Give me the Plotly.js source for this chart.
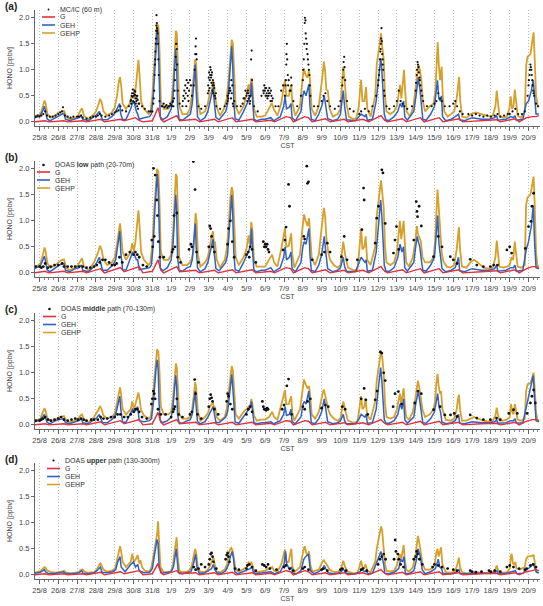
<!DOCTYPE html>
<html>
<head>
<meta charset="utf-8">
<script src="https://cdn.plot.ly/plotly-3.0.1.min.js"></script>
<style>
  html, body { margin: 0; padding: 0; background: #fff; }
  #chart { width: 543px; height: 606px; }
</style>
</head>
<body>
<div id="chart"></div>
<script>
// x is time in days since 25/8 00:00 CST; each tick is one midnight
const dayLabels = ['25/8','26/8','27/8','28/8','29/8','30/8','31/8','1/9','2/9','3/9','4/9','5/9','6/9',
  '7/9','8/9','9/9','10/9','11/9','12/9','13/9','14/9','15/9','16/9','17/9','18/9','19/9','20/9'];
const dayTicks = dayLabels.map((_, i) => i);
const yTickVals = [0, 0.5, 1.0, 1.5, 2.0];
const yTickText = ['0.0', '0.5', '1.0', '1.5', '2.0'];

const panelTags = ['(a)', '(b)', '(c)', '(d)'];
const obsNames = ['MC/IC (60 m)', 'DOAS <b>low</b> path (20-70m)', 'DOAS <b>middle</b> path (70-130m)', 'DOAS <b>upper</b> path (130-300m)'];
const modelNames = ['G', 'GEH', 'GEHP'];

// ---------- (a) MC/IC at 60 m ----------
const obsA = [[-0.2,0.1],[-0.1,0.12],[0.0,0.1],[0.1,0.12],[0.2,0.15],[0.3,0.2],[0.4,0.12],[0.55,0.1],[0.7,0.1],[0.85,0.12],
 [1.0,0.15],[1.1,0.18],[1.2,0.2],[1.25,0.28],[1.35,0.12],[1.5,0.1],[1.65,0.08],[1.8,0.1],
 [2.0,0.1],[2.1,0.1],[2.2,0.12],[2.3,0.08],[2.5,0.06],[2.7,0.08],[2.85,0.1],
 [3.0,0.1],[3.1,0.12],[3.2,0.15],[3.3,0.12],[3.5,0.1],[3.7,0.12],[3.85,0.15],
 [4.0,0.18],[4.1,0.2],[4.2,0.22],[4.3,0.3],[4.4,0.22],[4.6,0.2],[4.75,0.3],[4.85,0.4],[4.9,0.5],
 [4.86,0.42],[4.88,0.35],[4.92,0.55],[4.94,0.48],[4.96,0.62],[4.98,0.4],[5.02,0.5],[5.04,0.38],[5.07,0.52],[5.09,0.58],
 [5.12,0.35],[5.14,0.5],[5.17,0.45],[5.19,0.3],[5.22,0.42],[5.24,0.25],[5.27,0.35],
 [5.0,0.55],[5.05,0.6],[5.1,0.45],[5.15,0.4],[5.2,0.5],[5.3,0.35],[5.45,0.3],[5.6,0.25],[5.8,0.2],[5.9,0.2],
 [6.0,0.2],[6.05,0.35],[6.1,0.6],[6.15,1.2],[6.18,1.5],[6.2,1.75],[6.22,2.05],[6.25,1.8],[6.28,1.7],[6.32,1.2],[6.38,0.4],[6.5,0.3],[6.7,0.3],[6.85,0.3],
 [6.07,0.45],[6.12,0.9],[6.14,1.1],[6.16,1.35],[6.19,1.6],[6.21,1.85],[6.24,1.9],[6.26,1.75],[6.3,1.5],[6.34,0.9],
 [6.55,0.3],[6.6,0.35],[6.65,0.28],[6.75,0.32],[6.8,0.27],[6.9,0.3],[6.95,0.35],[7.05,0.3],[7.08,0.38],[7.12,0.3],[7.15,0.45],
 [7.0,0.32],[7.1,0.4],[7.18,0.6],[7.22,1.0],[7.26,1.5],[7.3,1.4],[7.35,0.6],[7.45,0.35],[7.6,0.3],[7.8,0.3],
 [7.2,0.8],[7.24,1.25],[7.28,1.5],[7.32,1.1],
 [7.62,0.4],[7.65,0.5],[7.7,0.6],[7.72,0.45],[7.75,0.7],[7.78,0.55],[7.82,0.8],[7.85,0.65],[7.88,0.5],[7.9,0.75],[7.92,0.4],
 [7.95,0.6],[8.0,0.8],[8.05,0.7],[8.1,0.5],[8.2,0.7],[8.28,1.3],[8.32,1.6],[8.36,1.2],[8.45,0.3],[8.6,0.25],[8.8,0.3],
 [8.25,1.0],[8.3,1.45],[8.34,1.3],
 [8.95,0.55],[8.97,0.7],[9.0,0.85],[9.02,0.95],[9.04,0.65],[9.07,0.9],[9.08,1.05],[9.12,0.85],[9.14,0.75],[9.17,0.95],
 [9.19,0.6],[9.22,0.8],[9.24,0.55],[9.27,0.7],[9.29,0.65],[9.32,0.5],[9.35,0.45],[9.38,0.55],
 [9.0,0.6],[9.05,0.8],[9.1,1.0],[9.15,0.9],[9.2,0.7],[9.25,0.75],[9.3,0.5],[9.4,0.3],[9.6,0.25],[9.85,0.3],
 [9.95,0.35],[10.0,0.5],[10.03,0.45],[10.07,0.55],[10.12,0.65],[10.15,0.6],[10.18,0.45],[10.22,0.55],[10.28,0.35],[10.3,0.3],
 [10.0,0.4],[10.1,0.6],[10.2,0.8],[10.25,0.7],[10.35,0.4],[10.5,0.3],[10.7,0.3],[10.85,0.45],
 [10.8,0.35],[10.9,0.45],[10.95,0.6],[11.02,0.55],[11.05,0.4],[11.08,0.6],[11.12,0.45],[11.15,0.5],[11.18,0.35],[11.22,0.5],
 [11.0,0.5],[11.1,0.55],[11.2,0.4],[11.25,1.2],[11.28,1.37],[11.3,0.8],[11.4,0.3],[11.6,0.2],[11.8,0.5],[11.9,0.6],
 [11.92,0.55],[11.95,0.7],[11.98,0.6],[12.02,0.5],[12.05,0.65],[12.08,0.55],[12.12,0.45],[12.15,0.6],[12.18,0.5],[12.22,0.65],
 [12.25,0.55],[12.28,0.4],[12.33,0.5],[12.36,0.4],
 [12.0,0.65],[12.1,0.5],[12.2,0.55],[12.3,0.6],[12.4,0.45],[12.55,0.3],[12.7,0.3],[12.85,0.6],[12.95,0.7],
 [13.05,0.5],[13.1,0.8],[13.12,1.1],[13.15,1.5],[13.2,0.9],[13.3,0.6],[13.4,0.7],[13.5,0.4],[13.7,0.3],[13.9,0.5],
 [13.08,0.7],[13.13,1.3],[13.17,1.2],[13.22,0.7],[13.25,0.8],[13.35,0.6],[13.38,0.85],
 [14.0,0.8],[14.05,1.2],[14.1,1.9],[14.12,2.2],[14.15,1.7],[14.2,1.4],[14.25,1.3],[14.3,1.1],[14.35,0.9],[14.4,0.5],[14.6,0.3],[14.8,0.3],
 [14.02,1.0],[14.08,1.5],[14.11,2.0],[14.14,1.95],[14.17,1.6],[14.22,1.5],[14.27,1.2],[14.32,1.0],[14.37,0.7],
 [15.0,0.4],[15.1,0.5],[15.2,0.55],[15.3,0.4],[15.45,0.3],[15.7,0.25],[15.9,0.3],
 [16.0,0.4],[16.1,0.7],[16.15,1.0],[16.2,1.25],[16.25,0.8],[16.35,0.4],[16.5,0.25],[16.7,0.2],
 [16.12,0.85],[16.17,1.15],[16.22,1.05],
 [17.0,0.15],[17.1,0.2],[17.3,0.25],[17.5,0.2],[17.7,0.3],[17.9,0.5],
 [18.0,0.7],[18.05,0.9],[18.1,1.2],[18.15,1.5],[18.18,1.8],[18.22,1.3],[18.27,1.0],[18.32,0.6],[18.45,0.3],[18.6,0.25],[18.85,0.3],
 [18.02,0.8],[18.07,1.0],[18.12,1.35],[18.14,1.4],[18.16,1.6],[18.2,1.55],[18.24,1.2],[18.25,1.1],[18.29,0.8],[18.35,0.5],
 [19.0,0.4],[19.1,0.6],[19.2,0.4],[19.3,0.35],[19.4,0.3],[19.55,0.25],[19.8,0.3],
 [20.0,0.6],[20.05,0.9],[20.1,1.15],[20.15,1.05],[20.2,0.85],[20.3,0.6],[20.4,0.4],[20.6,0.3],[20.85,0.3],
 [20.02,0.75],[20.07,1.0],[20.12,1.1],[20.17,0.95],[20.22,0.8],[20.25,0.7],[20.35,0.5],
 [21.0,0.35],[21.1,0.4],[21.2,0.55],[21.3,0.45],[21.4,0.4],[21.55,0.3],[21.8,0.3],
 [22.0,0.35],[22.1,0.4],[22.2,0.3],[22.35,0.2],[22.5,0.15],[22.8,0.15],
 [23.0,0.12],[23.2,0.15],[23.4,0.12],[23.6,0.1],[23.8,0.12],
 [24.0,0.1],[24.2,0.12],[24.35,0.15],[24.5,0.1],[24.7,0.12],[24.9,0.15],
 [25.0,0.15],[25.15,0.2],[25.3,0.25],[25.45,0.15],[25.65,0.15],[25.8,0.2],
 [25.95,0.5],[26.0,0.7],[26.05,0.9],[26.1,1.1],[26.15,1.0],[26.2,0.8],[26.25,0.6],[26.3,0.5],[26.4,0.35],[26.5,0.3],
 [26.02,0.8],[26.07,1.0],[26.12,1.05],[26.17,0.9],[26.22,0.7],[26.27,0.55]];

const gA = [[-0.25,0.0],[0.3,0.02],[0.5,0.0],[1.3,0.02],[1.5,0.0],[2.3,0.02],[2.5,0.0],[3.25,0.05],[3.45,0.0],[4.3,0.05],[4.5,0.02],
 [5.1,0.08],[5.3,0.03],[5.5,0.0],[6.0,0.02],[6.3,0.27],[6.45,0.05],[6.6,0.0],[7.3,0.12],[7.45,0.02],[8.3,0.05],[8.5,0.0],[9.3,0.05],[9.5,0.0],
 [10.25,0.08],[10.45,0.0],[11.3,0.05],[11.5,0.0],[12.3,0.03],[12.5,0.0],[13.1,0.1],[13.35,0.08],[13.5,0.0],[14.1,0.1],[14.3,0.08],[14.5,0.0],
 [15.2,0.06],[15.45,0.0],[16.2,0.05],[16.4,0.0],[17.2,0.05],[17.5,0.0],[18.15,0.12],[18.35,0.03],[18.5,0.0],[19.3,0.06],[19.5,0.0],
 [20.25,0.08],[20.45,0.0],[21.25,0.08],[21.45,0.0],[22.3,0.06],[22.5,0.0],[23.5,0.02],[24.3,0.04],[24.5,0.0],[25.3,0.06],[25.5,0.0],
 [25.9,0.08],[26.2,0.1],[26.4,0.1],[26.55,0.12]];

const gehA = [[-0.25,0.08],[0.05,0.12],[0.18,0.22],[0.26,0.3],[0.32,0.2],[0.4,0.06],[0.55,0.02],[0.85,0.08],
 [1.05,0.13],[1.2,0.15],[1.3,0.16],[1.38,0.05],[1.6,0.02],[1.9,0.06],
 [2.1,0.08],[2.22,0.12],[2.3,0.05],[2.6,0.02],[2.9,0.1],
 [3.05,0.14],[3.18,0.2],[3.26,0.12],[3.35,0.04],[3.6,0.04],[3.9,0.12],
 [4.05,0.2],[4.18,0.3],[4.26,0.35],[4.32,0.15],[4.42,0.04],[4.6,0.05],[4.85,0.25],
 [4.95,0.38],[5.05,0.35],[5.15,0.2],[5.22,0.15],[5.3,0.05],[5.55,0.08],[5.85,0.1],
 [5.95,0.15],[6.05,0.5],[6.13,1.1],[6.2,1.6],[6.26,1.82],[6.31,1.55],[6.36,0.6],[6.42,0.1],[6.55,0.04],[6.8,0.1],
 [7.0,0.25],[7.1,0.5],[7.18,1.0],[7.24,1.4],[7.29,1.1],[7.34,0.3],[7.42,0.05],[7.6,0.03],[7.85,0.1],
 [8.02,0.15],[8.12,0.35],[8.22,0.8],[8.28,1.1],[8.33,0.6],[8.4,0.1],[8.55,0.02],[8.8,0.08],
 [8.95,0.2],[9.08,0.4],[9.17,0.5],[9.23,0.65],[9.3,0.35],[9.38,0.08],[9.55,0.04],[9.9,0.2],
 [10.0,0.35],[10.08,0.7],[10.16,1.2],[10.22,1.45],[10.27,1.1],[10.33,0.4],[10.4,0.06],[10.6,0.03],[10.85,0.2],
 [11.02,0.35],[11.15,0.45],[11.22,0.5],[11.27,0.75],[11.33,0.35],[11.4,0.05],[11.55,0.02],[11.8,0.05],
 [12.0,0.05],[12.3,0.08],[12.45,0.02],[12.8,0.1],
 [12.98,0.3],[13.06,0.49],[13.13,0.25],[13.28,0.28],[13.37,0.35],[13.43,0.08],[13.6,0.02],[13.9,0.2],
 [14.0,0.5],[14.07,0.6],[14.17,0.5],[14.27,0.62],[14.32,0.72],[14.38,0.3],[14.45,0.05],[14.65,0.02],[14.85,0.15],
 [15.0,0.3],[15.1,0.45],[15.14,0.5],[15.22,0.3],[15.32,0.06],[15.6,0.02],[15.85,0.05],
 [16.0,0.15],[16.1,0.45],[16.15,0.6],[16.22,0.3],[16.32,0.04],[16.8,0.02],
 [17.0,0.1],[17.1,0.15],[17.3,0.1],[17.37,0.15],[17.43,0.03],[17.7,0.05],[17.9,0.4],
 [18.0,0.8],[18.08,1.0],[18.14,1.22],[18.2,1.0],[18.27,0.6],[18.33,0.15],[18.42,0.03],[18.6,0.03],[18.85,0.1],
 [19.05,0.2],[19.17,0.35],[19.27,0.28],[19.36,0.4],[19.42,0.1],[19.55,0.03],[19.9,0.2],
 [20.0,0.45],[20.08,0.7],[20.14,0.85],[20.22,0.65],[20.3,0.3],[20.38,0.05],[20.55,0.03],[20.8,0.15],
 [21.0,0.3],[21.1,0.6],[21.16,0.8],[21.23,0.45],[21.32,0.4],[21.37,0.5],[21.43,0.1],[21.6,0.02],[21.9,0.05],
 [22.1,0.1],[22.28,0.15],[22.34,0.04],[22.6,0.02],
 [23.0,0.08],[23.5,0.05],[23.9,0.05],
 [24.2,0.08],[24.3,0.12],[24.37,0.03],[24.8,0.05],
 [25.05,0.1],[25.2,0.08],[25.28,0.12],[25.35,0.03],[25.7,0.05],
 [25.88,0.35],[26.0,0.4],[26.15,0.6],[26.25,0.8],[26.32,0.5],[26.4,0.15],[26.55,0.15]];

const gehpA = [[-0.25,0.1],[0.05,0.15],[0.18,0.3],[0.27,0.41],[0.33,0.35],[0.42,0.15],[0.6,0.08],[0.85,0.12],
 [1.0,0.18],[1.15,0.2],[1.3,0.21],[1.42,0.1],[1.6,0.05],[1.9,0.08],
 [2.05,0.12],[2.18,0.22],[2.26,0.26],[2.36,0.12],[2.6,0.05],[2.9,0.15],
 [3.0,0.2],[3.12,0.32],[3.22,0.44],[3.3,0.38],[3.4,0.2],[3.6,0.12],[3.85,0.18],
 [4.0,0.28],[4.12,0.5],[4.22,0.78],[4.28,0.86],[4.34,0.7],[4.42,0.35],[4.6,0.25],[4.8,0.35],
 [4.9,0.5],[5.0,0.45],[5.1,0.6],[5.2,1.05],[5.26,1.19],[5.32,0.9],[5.4,0.4],[5.55,0.25],[5.8,0.15],
 [5.9,0.2],[6.0,0.5],[6.1,1.1],[6.18,1.6],[6.24,1.88],[6.32,1.85],[6.37,1.5],[6.45,0.4],[6.6,0.25],[6.85,0.25],
 [7.0,0.35],[7.1,0.7],[7.18,1.3],[7.25,1.75],[7.3,1.7],[7.36,1.0],[7.43,0.3],[7.6,0.15],[7.85,0.15],
 [8.0,0.25],[8.1,0.5],[8.2,0.9],[8.28,1.2],[8.33,1.1],[8.42,0.4],[8.55,0.15],[8.8,0.2],
 [8.95,0.35],[9.05,0.55],[9.15,0.55],[9.22,0.78],[9.28,0.7],[9.35,0.45],[9.45,0.25],[9.6,0.12],[9.8,0.25],
 [9.95,0.45],[10.05,0.8],[10.15,1.35],[10.22,1.58],[10.28,1.5],[10.35,0.9],[10.43,0.3],[10.6,0.15],[10.85,0.3],
 [11.0,0.5],[11.12,0.72],[11.18,0.55],[11.26,0.84],[11.32,0.7],[11.4,0.25],[11.55,0.1],[11.8,0.1],
 [12.0,0.12],[12.2,0.25],[12.35,0.36],[12.45,0.25],[12.65,0.12],[12.85,0.35],
 [12.98,0.65],[13.05,0.8],[13.12,0.5],[13.25,0.5],[13.38,0.71],[13.45,0.35],[13.6,0.12],[13.85,0.3],
 [13.95,0.7],[14.05,1.03],[14.15,0.9],[14.25,0.85],[14.33,1.0],[14.38,0.8],[14.47,0.25],[14.65,0.12],[14.85,0.3],
 [14.95,0.55],[15.05,0.9],[15.12,1.16],[15.18,1.0],[15.25,0.62],[15.33,0.6],[15.42,0.25],[15.6,0.1],[15.85,0.15],
 [16.0,0.25],[16.08,0.7],[16.15,1.06],[16.22,0.8],[16.32,0.35],[16.45,0.1],[16.7,0.05],[16.85,0.08],
 [16.98,0.3],[17.05,0.65],[17.1,0.81],[17.17,0.4],[17.28,0.4],[17.36,0.67],[17.43,0.25],[17.6,0.1],[17.85,0.5],
 [17.93,1.1],[18.02,1.35],[18.1,1.5],[18.16,1.7],[18.22,1.45],[18.3,1.2],[18.37,0.5],[18.45,0.2],[18.65,0.15],[18.85,0.2],
 [19.0,0.3],[19.1,0.55],[19.17,0.71],[19.24,0.45],[19.32,0.7],[19.38,1.0],[19.44,0.6],[19.52,0.2],[19.7,0.1],[19.88,0.3],
 [19.98,0.6],[20.07,0.9],[20.15,1.1],[20.22,1.0],[20.3,0.8],[20.38,0.4],[20.5,0.2],[20.75,0.3],[20.95,0.35],
 [21.05,0.6],[21.12,1.2],[21.17,1.53],[21.23,1.1],[21.3,0.8],[21.38,1.06],[21.44,0.5],[21.52,0.2],[21.7,0.1],[21.88,0.15],
 [22.05,0.2],[22.18,0.45],[22.27,0.8],[22.31,0.86],[22.37,0.4],[22.47,0.1],[22.7,0.08],
 [22.95,0.15],[23.2,0.18],[23.45,0.15],[23.7,0.12],[23.95,0.1],
 [24.1,0.12],[24.24,0.3],[24.31,0.6],[24.37,0.35],[24.45,0.12],[24.65,0.08],[24.85,0.1],
 [24.98,0.25],[25.05,0.49],[25.12,0.25],[25.2,0.3],[25.27,0.62],[25.33,0.4],[25.42,0.12],[25.6,0.08],[25.8,0.2],
 [25.88,1.1],[25.95,1.25],[26.1,1.3],[26.2,1.5],[26.27,1.72],[26.33,1.2],[26.4,0.5],[26.5,0.3],[26.55,0.28]];

// ---------- (b) DOAS low path ----------
const obsB = [[-0.2,0.12],[0.0,0.12],[0.1,0.1],[0.2,0.12],[0.3,0.18],[0.45,0.1],[0.6,0.12],[0.8,0.15],
 [1.0,0.15],[1.2,0.18],[1.3,0.12],[1.5,0.12],[1.7,0.12],[1.9,0.12],[2.1,0.12],[2.3,0.12],[2.5,0.1],[2.7,0.1],[2.9,0.12],
 [3.05,0.15],[3.2,0.2],[3.35,0.25],[3.5,0.25],[3.7,0.2],[3.85,0.15],[4.0,0.15],[4.1,0.18],[4.25,0.3],[4.4,0.2],[4.6,0.35],[4.8,0.4],
 [5.0,0.35],[5.1,0.4],[5.2,0.35],[5.3,0.3],[5.5,0.15],[5.7,0.12],
 [5.97,0.63],[6.02,0.5],[6.06,2.01],[6.1,0.7],[6.15,1.88],[6.23,1.4],[6.27,1.1],[6.32,0.6],[6.4,0.3],[6.6,0.3],
 [7.05,0.4],[7.1,0.45],[7.15,1.1],[7.2,0.5],[7.3,1.15],[7.35,0.3],[7.5,0.2],
 [7.95,0.45],[8.05,0.55],[8.1,0.5],[8.18,2.14],[8.27,1.6],[8.35,0.4],[8.45,0.2],
 [9.0,0.5],[9.05,0.9],[9.1,0.85],[9.15,0.7],[9.2,0.5],[9.3,0.4],
 [10.0,0.55],[10.05,0.85],[10.15,1.0],[10.25,0.6],[10.35,0.3],
 [11.0,0.35],[11.1,0.4],[11.15,0.3],[11.2,0.5],[11.3,0.45],[11.5,0.2],
 [11.9,0.6],[11.95,0.5],[12.0,0.55],[12.05,0.5],[12.1,0.55],[12.15,0.45],[12.2,0.4],
 [12.95,0.44],[13.05,0.63],[13.11,0.88],[13.24,1.7],[13.29,1.28],
 [14.05,0.7],[14.1,0.65],[14.21,2.05],[14.25,1.72],[14.3,1.75],[14.5,0.25],
 [15.0,0.35],[15.15,0.4],[15.3,0.57],[15.45,0.4],[16.05,0.31],[16.2,0.7],[16.35,0.25],
 [16.9,0.25],[17.14,0.83],[17.23,1.63],[17.26,1.4],
 [17.85,0.57],[17.93,1.05],[18.02,1.28],[18.2,1.98],[18.26,1.92],[18.38,0.95],
 [18.82,0.38],[18.9,0.63],[18.98,0.89],[19.1,0.45],
 [19.9,0.63],[20.03,1.37],[20.07,1.18],[20.1,1.08],[20.18,1.28],[20.3,0.9],
 [20.95,0.31],[21.2,0.7],[21.4,0.5],[21.84,0.31],[22.0,0.25],[22.2,0.18],
 [22.9,0.26],[23.25,0.15],[23.6,0.12],[23.97,0.12],[24.15,0.15],[24.35,0.15],
 [24.85,0.44],[25.0,0.5],[25.1,0.38],[25.83,0.47],[26.0,0.89],[26.13,0.99],[26.18,1.28],[26.27,1.53]];

const gB = [[-0.25,0.0],[0.3,0.03],[0.5,0.0],[1.3,0.03],[1.5,0.0],[2.3,0.03],[2.5,0.0],[3.25,0.08],[3.45,0.0],[4.3,0.1],[4.5,0.02],
 [5.1,0.1],[5.3,0.12],[5.5,0.0],[6.0,0.03],[6.3,0.25],[6.45,0.05],[6.6,0.0],[7.3,0.12],[7.45,0.02],[8.3,0.05],[8.5,0.0],[9.3,0.05],[9.5,0.0],
 [10.25,0.06],[10.45,0.0],[11.3,0.06],[11.5,0.0],[12.3,0.03],[12.5,0.0],[13.1,0.1],[13.35,0.08],[13.5,0.0],[14.1,0.1],[14.3,0.08],[14.5,0.0],
 [15.2,0.06],[15.45,0.0],[16.2,0.05],[16.4,0.0],[17.2,0.05],[17.5,0.0],[18.15,0.12],[18.35,0.03],[18.5,0.0],[19.3,0.06],[19.5,0.0],
 [20.25,0.08],[20.45,0.0],[21.25,0.08],[21.45,0.0],[22.3,0.06],[22.5,0.0],[23.5,0.02],[24.3,0.04],[24.5,0.0],[25.3,0.06],[25.5,0.0],
 [25.9,0.08],[26.2,0.12],[26.4,0.12],[26.55,0.1]];

const gehB = [[-0.25,0.08],[0.05,0.14],[0.18,0.25],[0.26,0.32],[0.32,0.22],[0.4,0.06],[0.55,0.02],[0.85,0.1],
 [1.05,0.15],[1.2,0.17],[1.3,0.18],[1.38,0.05],[1.6,0.02],[1.9,0.08],
 [2.1,0.1],[2.22,0.15],[2.3,0.05],[2.6,0.02],[2.9,0.12],
 [3.05,0.2],[3.18,0.3],[3.26,0.18],[3.35,0.05],[3.6,0.05],[3.9,0.15],
 [4.05,0.25],[4.15,0.5],[4.22,0.75],[4.27,0.8],[4.32,0.4],[4.42,0.06],[4.6,0.05],[4.85,0.3],
 [4.95,0.4],[5.05,0.35],[5.15,0.25],[5.22,0.25],[5.3,0.06],[5.55,0.08],[5.85,0.1],
 [5.95,0.15],[6.05,0.55],[6.13,1.2],[6.2,1.7],[6.26,1.9],[6.31,1.6],[6.36,0.6],[6.42,0.1],[6.55,0.04],[6.8,0.1],
 [7.0,0.25],[7.1,0.55],[7.18,1.1],[7.24,1.5],[7.29,1.2],[7.34,0.3],[7.42,0.05],[7.6,0.03],[7.85,0.1],
 [8.02,0.12],[8.12,0.25],[8.22,0.7],[8.28,0.95],[8.33,0.5],[8.4,0.1],[8.55,0.02],[8.8,0.08],
 [8.95,0.2],[9.08,0.4],[9.17,0.55],[9.23,0.65],[9.3,0.35],[9.38,0.08],[9.55,0.04],[9.9,0.2],
 [10.0,0.35],[10.08,0.75],[10.16,1.25],[10.22,1.5],[10.27,1.15],[10.33,0.4],[10.4,0.06],[10.6,0.03],[10.85,0.2],
 [11.02,0.35],[11.15,0.45],[11.22,0.55],[11.27,0.85],[11.33,0.4],[11.4,0.05],[11.55,0.02],[11.8,0.05],
 [12.0,0.05],[12.3,0.1],[12.45,0.02],[12.8,0.1],
 [12.98,0.3],[13.06,0.5],[13.13,0.25],[13.28,0.3],[13.37,0.4],[13.43,0.08],[13.6,0.02],[13.9,0.2],
 [14.0,0.5],[14.07,0.6],[14.17,0.55],[14.27,0.72],[14.32,0.85],[14.38,0.35],[14.45,0.05],[14.65,0.02],[14.85,0.15],
 [15.0,0.35],[15.1,0.6],[15.14,0.7],[15.22,0.4],[15.32,0.08],[15.6,0.02],[15.85,0.05],
 [16.0,0.1],[16.1,0.25],[16.15,0.3],[16.22,0.12],[16.32,0.03],[16.8,0.02],
 [17.0,0.2],[17.1,0.3],[17.3,0.2],[17.37,0.25],[17.43,0.03],[17.7,0.05],[17.9,0.4],
 [18.0,0.85],[18.08,1.1],[18.14,1.4],[18.2,1.1],[18.27,0.7],[18.33,0.15],[18.42,0.03],[18.6,0.03],[18.85,0.1],
 [19.05,0.3],[19.17,0.55],[19.27,0.4],[19.36,0.5],[19.42,0.1],[19.55,0.03],[19.9,0.2],
 [20.0,0.5],[20.08,0.7],[20.14,0.6],[20.22,0.5],[20.3,0.25],[20.38,0.05],[20.55,0.03],[20.8,0.15],
 [21.0,0.3],[21.1,0.8],[21.17,1.1],[21.24,0.55],[21.32,0.3],[21.4,0.08],[21.6,0.02],[21.9,0.05],
 [22.1,0.1],[22.28,0.3],[22.34,0.04],[22.6,0.02],
 [23.0,0.08],[23.5,0.05],[23.9,0.05],
 [24.2,0.08],[24.3,0.15],[24.37,0.03],[24.8,0.05],
 [25.05,0.1],[25.2,0.1],[25.28,0.15],[25.35,0.03],[25.7,0.05],
 [25.88,0.45],[26.0,0.6],[26.15,0.9],[26.25,1.3],[26.32,0.6],[26.4,0.1],[26.55,0.08]];

const gehpB = [[-0.25,0.1],[0.05,0.18],[0.18,0.35],[0.27,0.49],[0.33,0.4],[0.42,0.18],[0.6,0.1],[0.85,0.15],
 [1.0,0.2],[1.15,0.24],[1.3,0.26],[1.42,0.1],[1.6,0.05],[1.9,0.1],
 [2.05,0.15],[2.18,0.24],[2.26,0.28],[2.36,0.12],[2.6,0.05],[2.9,0.2],
 [3.0,0.28],[3.12,0.4],[3.22,0.52],[3.3,0.45],[3.4,0.25],[3.6,0.15],[3.85,0.2],
 [4.0,0.3],[4.12,0.55],[4.22,0.85],[4.28,0.95],[4.34,0.75],[4.42,0.4],[4.6,0.25],[4.85,0.4],
 [4.93,0.57],[5.02,0.42],[5.1,0.6],[5.2,1.05],[5.26,1.2],[5.32,0.9],[5.4,0.4],[5.55,0.25],[5.8,0.15],
 [5.9,0.2],[6.0,0.55],[6.1,1.2],[6.18,1.7],[6.25,2.0],[6.32,1.95],[6.37,1.5],[6.45,0.4],[6.6,0.25],[6.85,0.25],
 [7.0,0.35],[7.1,0.75],[7.18,1.4],[7.25,1.9],[7.3,1.85],[7.36,1.0],[7.43,0.3],[7.6,0.15],[7.85,0.15],
 [8.0,0.2],[8.1,0.28],[8.18,0.4],[8.24,0.9],[8.3,1.15],[8.35,1.0],[8.42,0.35],[8.55,0.12],[8.8,0.2],
 [8.95,0.3],[9.05,0.55],[9.15,0.7],[9.22,0.8],[9.27,0.55],[9.33,0.6],[9.42,0.25],[9.6,0.1],[9.85,0.25],
 [9.95,0.45],[10.05,0.85],[10.15,1.45],[10.22,1.65],[10.28,1.55],[10.35,0.9],[10.43,0.3],[10.6,0.15],[10.85,0.3],
 [11.0,0.45],[11.12,0.72],[11.18,0.55],[11.26,0.98],[11.32,0.8],[11.4,0.25],[11.55,0.12],[11.8,0.12],
 [12.0,0.12],[12.2,0.25],[12.37,0.35],[12.47,0.2],[12.65,0.12],[12.85,0.45],
 [12.97,0.7],[13.05,0.86],[13.12,0.5],[13.25,0.52],[13.38,0.76],[13.44,0.35],[13.55,0.1],[13.85,0.35],
 [13.95,0.75],[14.06,1.12],[14.15,1.0],[14.25,0.9],[14.33,1.05],[14.38,0.8],[14.47,0.3],[14.65,0.15],[14.85,0.35],
 [14.95,0.7],[15.05,1.05],[15.12,1.25],[15.18,1.1],[15.26,0.65],[15.35,0.4],[15.45,0.25],[15.65,0.15],[15.85,0.1],
 [16.0,0.15],[16.1,0.4],[16.15,0.6],[16.25,0.35],[16.4,0.1],[16.7,0.05],[16.9,0.05],
 [16.98,0.35],[17.05,0.7],[17.1,0.85],[17.17,0.45],[17.27,0.5],[17.34,0.7],[17.42,0.25],[17.6,0.15],[17.85,0.5],
 [17.93,1.1],[18.02,1.4],[18.1,1.6],[18.16,1.78],[18.22,1.55],[18.3,1.25],[18.37,0.5],[18.45,0.2],[18.65,0.15],[18.85,0.2],
 [19.0,0.4],[19.1,0.8],[19.16,1.0],[19.23,0.65],[19.3,0.85],[19.36,1.0],[19.42,0.6],[19.5,0.2],[19.65,0.12],[19.85,0.3],
 [19.98,0.6],[20.06,0.9],[20.12,0.75],[20.2,0.65],[20.28,0.6],[20.36,0.3],[20.5,0.2],[20.75,0.2],[20.95,0.3],
 [21.03,0.6],[21.1,1.2],[21.16,1.6],[21.22,1.3],[21.3,0.8],[21.38,0.4],[21.47,0.22],[21.65,0.12],[21.85,0.1],
 [22.05,0.15],[22.18,0.45],[22.26,0.8],[22.3,0.88],[22.36,0.45],[22.46,0.12],[22.7,0.1],
 [22.9,0.2],[23.1,0.25],[23.3,0.2],[23.6,0.1],[23.9,0.08],
 [24.1,0.1],[24.24,0.3],[24.31,0.62],[24.37,0.35],[24.45,0.12],[24.65,0.1],[24.85,0.12],
 [25.0,0.15],[25.1,0.3],[25.18,0.25],[25.27,0.6],[25.33,0.4],[25.42,0.12],[25.6,0.1],[25.8,0.15],
 [25.87,1.3],[25.95,1.45],[26.1,1.5],[26.2,1.7],[26.27,1.85],[26.33,1.3],[26.4,0.4],[26.47,0.15],[26.55,0.12]];

// ---------- (c) DOAS middle path ----------
const obsC = [[-0.2,0.08],[0.0,0.08],[0.1,0.1],[0.2,0.12],[0.3,0.15],[0.45,0.1],[0.6,0.08],[0.8,0.1],
 [1.0,0.12],[1.15,0.15],[1.3,0.1],[1.5,0.08],[1.7,0.1],[1.9,0.12],[2.05,0.1],[2.2,0.12],[2.35,0.1],[2.5,0.08],[2.75,0.1],[2.9,0.1],
 [3.1,0.1],[3.25,0.15],[3.4,0.12],[3.6,0.12],[3.8,0.15],[4.0,0.15],[4.15,0.2],[4.3,0.2],[4.5,0.15],[4.7,0.15],[4.85,0.2],
 [5.0,0.25],[5.1,0.3],[5.2,0.3],[5.3,0.25],[5.45,0.15],[5.7,0.12],
 [5.95,0.4],[6.0,0.5],[6.05,0.65],[6.1,0.6],[6.15,0.5],[6.3,0.3],[6.45,0.2],[6.7,0.2],
 [7.0,0.15],[7.1,0.25],[7.15,0.3],[7.2,0.35],[7.3,0.5],[7.4,0.2],[7.6,0.15],
 [8.0,0.2],[8.1,0.25],[8.25,0.87],[8.3,0.6],[8.4,0.2],[8.6,0.12],
 [9.0,0.35],[9.05,0.5],[9.1,0.58],[9.15,0.52],[9.2,0.45],[9.3,0.3],[9.5,0.2],
 [9.95,0.45],[10.0,0.6],[10.05,0.55],[10.15,0.4],[10.25,0.3],
 [11.0,0.2],[11.1,0.3],[11.2,0.35],[11.3,0.25],
 [11.85,0.45],[11.9,0.35],[11.95,0.3],[12.0,0.3],[12.05,0.28],[12.1,0.32],[12.15,0.3],
 [12.9,0.3],[13.0,0.38],[13.15,0.75],[13.24,0.88],[13.4,0.2],
 [14.0,0.35],[14.1,0.3],[14.25,0.45],[14.4,0.5],[15.0,0.32],[15.2,0.38],[15.35,0.35],[16.1,0.35],[16.25,0.3],
 [17.1,0.5],[17.26,0.7],[17.35,0.48],[17.45,0.2],
 [17.85,0.48],[17.95,0.65],[18.12,1.4],[18.2,1.38],[18.3,1.0],[18.38,0.85],
 [18.8,0.35],[18.9,0.6],[19.08,0.64],[19.25,0.4],[19.95,0.42],[20.12,0.65],[20.3,0.6],
 [20.95,0.29],[21.3,0.35],[21.55,0.19],[21.85,0.19],[22.05,0.22],[22.2,0.16],
 [22.9,0.19],[23.25,0.13],[23.6,0.1],[23.97,0.1],[24.3,0.13],[24.5,0.1],
 [24.95,0.22],[25.2,0.29],[25.4,0.22],[25.93,0.22],[26.1,0.42],[26.18,0.55],[26.27,0.67],[26.36,0.42]];

const gC = [[-0.25,0.0],[0.3,0.02],[0.5,0.0],[1.3,0.02],[1.5,0.0],[2.3,0.02],[2.5,0.0],[3.25,0.06],[3.45,0.0],[4.3,0.08],[4.5,0.02],
 [5.1,0.08],[5.3,0.1],[5.5,0.0],[6.0,0.02],[6.3,0.24],[6.45,0.05],[6.6,0.0],[7.3,0.1],[7.45,0.02],[8.3,0.05],[8.5,0.0],[9.3,0.04],[9.5,0.0],
 [10.25,0.05],[10.45,0.0],[11.3,0.05],[11.5,0.0],[12.3,0.03],[12.5,0.0],[13.1,0.08],[13.35,0.07],[13.5,0.0],[14.1,0.08],[14.3,0.07],[14.5,0.0],
 [15.2,0.05],[15.45,0.0],[16.2,0.04],[16.4,0.0],[17.2,0.04],[17.5,0.0],[18.15,0.1],[18.35,0.03],[18.5,0.0],[19.3,0.05],[19.5,0.0],
 [20.25,0.07],[20.45,0.0],[21.25,0.07],[21.45,0.0],[22.3,0.05],[22.5,0.0],[23.5,0.02],[24.3,0.03],[24.5,0.0],[25.3,0.05],[25.5,0.0],
 [25.9,0.07],[26.2,0.1],[26.4,0.1],[26.55,0.08]];

const gehC = [[-0.25,0.06],[0.05,0.1],[0.18,0.16],[0.26,0.2],[0.32,0.14],[0.4,0.05],[0.55,0.02],[0.85,0.08],
 [1.05,0.1],[1.2,0.12],[1.3,0.12],[1.38,0.04],[1.6,0.02],[1.9,0.06],
 [2.1,0.08],[2.22,0.12],[2.3,0.04],[2.6,0.02],[2.9,0.1],
 [3.05,0.14],[3.18,0.2],[3.26,0.12],[3.35,0.04],[3.6,0.04],[3.9,0.12],
 [4.05,0.2],[4.15,0.38],[4.22,0.5],[4.27,0.55],[4.32,0.3],[4.42,0.05],[4.6,0.05],[4.85,0.25],
 [4.95,0.3],[5.05,0.25],[5.15,0.3],[5.22,0.35],[5.3,0.08],[5.55,0.06],[5.85,0.08],
 [5.95,0.12],[6.05,0.4],[6.13,0.85],[6.2,1.1],[6.26,1.25],[6.31,1.05],[6.36,0.4],[6.42,0.08],[6.55,0.04],[6.8,0.08],
 [7.0,0.15],[7.1,0.35],[7.18,0.7],[7.24,0.95],[7.29,0.75],[7.34,0.2],[7.42,0.04],[7.6,0.03],[7.85,0.08],
 [8.02,0.1],[8.12,0.2],[8.22,0.5],[8.28,0.65],[8.33,0.35],[8.4,0.06],[8.55,0.02],[8.8,0.06],
 [8.95,0.15],[9.08,0.25],[9.17,0.3],[9.23,0.35],[9.3,0.2],[9.38,0.05],[9.55,0.04],[9.9,0.15],
 [10.0,0.25],[10.08,0.5],[10.16,0.8],[10.22,0.97],[10.27,0.75],[10.33,0.3],[10.4,0.05],[10.6,0.03],[10.85,0.15],
 [11.02,0.25],[11.15,0.3],[11.22,0.35],[11.27,0.45],[11.33,0.25],[11.4,0.04],[11.55,0.02],[11.8,0.04],
 [12.0,0.04],[12.3,0.06],[12.45,0.02],[12.8,0.08],
 [12.98,0.2],[13.06,0.35],[13.13,0.18],[13.28,0.2],[13.37,0.3],[13.43,0.06],[13.6,0.02],[13.9,0.15],
 [14.0,0.38],[14.07,0.45],[14.17,0.4],[14.27,0.55],[14.32,0.65],[14.38,0.3],[14.45,0.04],[14.65,0.02],[14.85,0.12],
 [15.0,0.25],[15.1,0.42],[15.14,0.5],[15.22,0.3],[15.32,0.06],[15.6,0.02],[15.85,0.04],
 [16.0,0.08],[16.1,0.16],[16.15,0.2],[16.22,0.08],[16.32,0.02],[16.8,0.02],
 [17.0,0.12],[17.1,0.2],[17.3,0.15],[17.37,0.2],[17.43,0.03],[17.7,0.04],[17.9,0.3],
 [18.0,0.65],[18.08,0.9],[18.14,1.1],[18.2,0.85],[18.27,0.5],[18.33,0.1],[18.42,0.03],[18.6,0.03],[18.85,0.08],
 [19.05,0.2],[19.17,0.4],[19.27,0.3],[19.36,0.5],[19.42,0.1],[19.55,0.03],[19.9,0.15],
 [20.0,0.4],[20.08,0.6],[20.14,0.65],[20.22,0.45],[20.3,0.2],[20.38,0.04],[20.55,0.03],[20.8,0.12],
 [21.0,0.25],[21.1,0.45],[21.17,0.6],[21.24,0.35],[21.32,0.25],[21.4,0.05],[21.6,0.02],[21.9,0.04],
 [22.1,0.08],[22.28,0.2],[22.34,0.03],[22.6,0.02],
 [23.0,0.06],[23.5,0.04],[23.9,0.04],
 [24.2,0.06],[24.3,0.1],[24.37,0.03],[24.8,0.04],
 [25.05,0.08],[25.2,0.08],[25.28,0.12],[25.35,0.03],[25.7,0.04],
 [25.88,0.35],[26.0,0.55],[26.15,0.75],[26.25,0.95],[26.32,0.5],[26.4,0.08],[26.55,0.06]];

const gehpC = [[-0.25,0.08],[0.05,0.12],[0.18,0.25],[0.27,0.32],[0.33,0.26],[0.42,0.12],[0.6,0.08],[0.85,0.1],
 [1.0,0.14],[1.15,0.16],[1.3,0.17],[1.42,0.08],[1.6,0.05],[1.9,0.08],
 [2.05,0.12],[2.18,0.18],[2.26,0.2],[2.36,0.1],[2.6,0.05],[2.9,0.15],
 [3.0,0.2],[3.12,0.28],[3.22,0.36],[3.3,0.3],[3.4,0.18],[3.6,0.12],[3.85,0.15],
 [4.0,0.22],[4.12,0.42],[4.22,0.65],[4.28,0.72],[4.34,0.58],[4.42,0.3],[4.6,0.2],[4.85,0.3],
 [4.93,0.45],[5.02,0.3],[5.1,0.4],[5.2,0.55],[5.26,0.62],[5.32,0.5],[5.4,0.28],[5.55,0.18],[5.8,0.12],
 [5.9,0.15],[6.0,0.4],[6.1,0.85],[6.18,1.2],[6.25,1.45],[6.32,1.4],[6.37,1.1],[6.45,0.35],[6.6,0.2],[6.85,0.2],
 [7.0,0.25],[7.1,0.5],[7.18,0.9],[7.25,1.18],[7.3,1.1],[7.36,0.6],[7.43,0.2],[7.6,0.12],[7.85,0.12],
 [8.0,0.15],[8.1,0.25],[8.2,0.55],[8.28,0.82],[8.33,0.7],[8.42,0.25],[8.55,0.08],[8.8,0.15],
 [8.95,0.22],[9.05,0.35],[9.15,0.4],[9.22,0.42],[9.27,0.32],[9.33,0.35],[9.42,0.15],[9.6,0.08],[9.85,0.15],
 [9.95,0.3],[10.05,0.6],[10.15,1.0],[10.22,1.13],[10.28,1.05],[10.35,0.6],[10.43,0.2],[10.6,0.12],[10.85,0.25],
 [11.0,0.3],[11.12,0.35],[11.18,0.3],[11.26,0.5],[11.32,0.4],[11.4,0.18],[11.55,0.08],[11.8,0.1],
 [12.0,0.1],[12.2,0.15],[12.37,0.25],[12.47,0.15],[12.65,0.1],[12.85,0.35],
 [12.97,0.55],[13.05,0.67],[13.12,0.4],[13.25,0.4],[13.38,0.55],[13.44,0.25],[13.55,0.08],[13.85,0.3],
 [13.95,0.6],[14.06,0.87],[14.15,0.78],[14.25,0.7],[14.33,0.75],[14.38,0.6],[14.47,0.2],[14.65,0.12],[14.85,0.25],
 [14.95,0.45],[15.05,0.6],[15.12,0.68],[15.18,0.6],[15.26,0.45],[15.35,0.3],[15.45,0.2],[15.65,0.12],[15.85,0.08],
 [16.0,0.12],[16.1,0.3],[16.15,0.45],[16.25,0.28],[16.4,0.08],[16.7,0.04],[16.9,0.05],
 [16.98,0.25],[17.05,0.45],[17.1,0.55],[17.17,0.3],[17.27,0.35],[17.34,0.5],[17.42,0.18],[17.6,0.1],[17.85,0.45],
 [17.93,0.85],[18.02,1.1],[18.1,1.3],[18.16,1.42],[18.22,1.3],[18.3,1.0],[18.37,0.4],[18.45,0.15],[18.65,0.12],[18.85,0.15],
 [19.0,0.3],[19.1,0.5],[19.16,0.6],[19.23,0.4],[19.3,0.55],[19.36,0.7],[19.42,0.4],[19.5,0.15],[19.65,0.1],[19.85,0.25],
 [19.98,0.5],[20.06,0.75],[20.12,0.85],[20.2,0.7],[20.28,0.5],[20.36,0.3],[20.5,0.15],[20.75,0.2],[20.95,0.3],
 [21.03,0.45],[21.1,0.8],[21.16,0.98],[21.22,0.75],[21.3,0.6],[21.35,0.65],[21.42,0.3],[21.6,0.1],[21.85,0.08],
 [22.05,0.12],[22.18,0.3],[22.26,0.52],[22.3,0.58],[22.36,0.3],[22.46,0.08],[22.7,0.08],
 [22.9,0.12],[23.1,0.15],[23.3,0.12],[23.6,0.08],[23.9,0.06],
 [24.1,0.08],[24.24,0.18],[24.31,0.33],[24.37,0.2],[24.45,0.08],[24.65,0.08],[24.85,0.1],
 [25.0,0.15],[25.07,0.4],[25.13,0.25],[25.2,0.2],[25.27,0.4],[25.33,0.25],[25.42,0.1],[25.6,0.08],[25.8,0.12],
 [25.87,0.65],[25.95,0.78],[26.1,0.8],[26.2,0.92],[26.27,1.0],[26.33,0.7],[26.4,0.25],[26.47,0.1],[26.55,0.08]];

// ---------- (d) DOAS upper path ----------
const obsD = [[8.2,0.15],[8.3,0.1],[8.45,0.12],[8.6,0.2],[8.8,0.15],[9.0,0.2],[9.05,0.3],[9.1,0.4],[9.15,0.42],[9.2,0.35],[9.25,0.25],[9.4,0.12],
 [9.9,0.3],[9.95,0.38],[10.0,0.42],[10.05,0.35],[10.1,0.25],[10.4,0.12],[10.6,0.1],
 [11.0,0.12],[11.05,0.18],[11.15,0.2],[11.3,0.15],[11.5,0.08],[11.85,0.2],[11.95,0.18],[12.05,0.15],[12.15,0.2],[12.25,0.12],[12.6,0.1],
 [13.0,0.15],[13.1,0.18],[13.3,0.12],[13.5,0.08],[14.0,0.12],[14.1,0.15],[14.3,0.1],[15.0,0.1],[15.1,0.12],[15.3,0.08],
 [16.0,0.1],[16.1,0.12],[16.3,0.08],[17.1,0.1],[17.2,0.12],[17.4,0.08],
 [18.0,0.2],[18.1,0.3],[18.2,0.35],[18.3,0.4],[18.4,0.3],
 [18.85,0.3],[18.91,0.67],[18.95,0.45],[19.05,0.4],[19.1,0.3],[19.2,0.2],[19.35,0.15],
 [19.9,0.3],[20.0,0.35],[20.05,0.45],[20.1,0.4],[20.2,0.3],[20.35,0.2],
 [20.9,0.15],[21.0,0.2],[21.2,0.18],[21.4,0.15],[21.7,0.12],[22.0,0.1],[22.2,0.08],
 [22.9,0.08],[23.0,0.06],[23.2,0.05],[23.5,0.06],[23.9,0.08],[24.0,0.06],[24.2,0.08],[24.5,0.06],
 [24.85,0.15],[25.0,0.18],[25.2,0.15],[25.5,0.12],[25.8,0.1],[25.9,0.12],[26.1,0.18],[26.25,0.2],[26.4,0.15]];

const gD = [[-0.25,0.0],[0.3,0.02],[0.5,0.0],[1.3,0.02],[1.5,0.0],[2.3,0.02],[2.5,0.0],[3.25,0.05],[3.45,0.0],[4.3,0.06],[4.5,0.02],
 [5.1,0.06],[5.3,0.08],[5.5,0.0],[6.0,0.02],[6.3,0.22],[6.45,0.04],[6.6,0.0],[7.3,0.08],[7.45,0.02],[8.3,0.04],[8.5,0.0],[9.3,0.04],[9.5,0.0],
 [10.25,0.05],[10.45,0.0],[11.3,0.04],[11.5,0.0],[12.3,0.03],[12.5,0.0],[13.1,0.08],[13.35,0.06],[13.5,0.0],[14.1,0.08],[14.3,0.06],[14.5,0.0],
 [15.2,0.04],[15.45,0.0],[16.2,0.04],[16.4,0.0],[17.2,0.04],[17.5,0.0],[18.15,0.1],[18.35,0.03],[18.5,0.0],[19.3,0.05],[19.5,0.0],
 [20.25,0.06],[20.45,0.0],[21.25,0.06],[21.45,0.0],[22.3,0.04],[22.5,0.0],[23.5,0.02],[24.3,0.03],[24.5,0.0],[25.3,0.04],[25.5,0.0],
 [25.9,0.06],[26.2,0.08],[26.4,0.1],[26.55,0.08]];

const gehD = [[-0.25,0.03],[0.05,0.05],[0.18,0.08],[0.26,0.1],[0.34,0.05],[0.5,0.02],[0.85,0.03],
 [1.1,0.04],[1.28,0.06],[1.36,0.03],[1.6,0.02],[1.9,0.03],
 [2.1,0.04],[2.24,0.08],[2.32,0.03],[2.6,0.02],[2.9,0.04],
 [3.05,0.08],[3.18,0.13],[3.24,0.15],[3.32,0.05],[3.6,0.04],[3.9,0.06],
 [4.05,0.1],[4.16,0.25],[4.24,0.34],[4.28,0.35],[4.34,0.15],[4.55,0.06],[4.85,0.2],
 [5.0,0.25],[5.1,0.15],[5.22,0.2],[5.3,0.08],[5.55,0.04],[5.85,0.05],
 [6.0,0.12],[6.1,0.35],[6.18,0.55],[6.25,0.68],[6.3,0.6],[6.36,0.15],[6.5,0.03],[6.8,0.04],
 [7.0,0.06],[7.12,0.15],[7.2,0.35],[7.27,0.5],[7.32,0.3],[7.38,0.05],[7.6,0.02],[7.85,0.04],
 [8.05,0.06],[8.18,0.2],[8.26,0.35],[8.3,0.4],[8.37,0.15],[8.5,0.02],[8.8,0.04],
 [9.0,0.08],[9.15,0.12],[9.24,0.2],[9.32,0.1],[9.45,0.03],[9.7,0.03],[9.9,0.08],
 [10.05,0.2],[10.15,0.35],[10.24,0.45],[10.32,0.3],[10.38,0.06],[10.55,0.02],[10.85,0.06],
 [11.05,0.1],[11.2,0.12],[11.3,0.15],[11.37,0.05],[11.5,0.02],[11.8,0.03],
 [12.0,0.04],[12.3,0.06],[12.5,0.02],[12.8,0.06],
 [13.0,0.2],[13.08,0.45],[13.15,0.2],[13.3,0.1],[13.4,0.15],[13.46,0.03],[13.65,0.02],[13.9,0.08],
 [14.05,0.3],[14.15,0.35],[14.3,0.4],[14.4,0.08],[14.6,0.02],[14.85,0.06],
 [15.05,0.12],[15.14,0.18],[15.22,0.12],[15.35,0.04],[15.6,0.02],[15.85,0.03],
 [16.05,0.06],[16.15,0.12],[16.25,0.05],[16.4,0.02],[16.8,0.02],
 [17.05,0.06],[17.1,0.1],[17.3,0.06],[17.38,0.08],[17.45,0.02],[17.7,0.03],[17.9,0.2],
 [18.05,0.35],[18.15,0.45],[18.22,0.35],[18.3,0.2],[18.36,0.03],[18.6,0.02],[18.85,0.05],
 [19.1,0.12],[19.2,0.3],[19.3,0.25],[19.38,0.35],[19.45,0.03],[19.65,0.02],[19.9,0.08],
 [20.05,0.3],[20.12,0.5],[20.25,0.35],[20.35,0.1],[20.5,0.02],[20.8,0.06],
 [21.05,0.12],[21.2,0.3],[21.28,0.15],[21.38,0.12],[21.44,0.03],[21.6,0.02],[21.9,0.02],
 [22.1,0.04],[22.3,0.1],[22.36,0.02],[22.6,0.02],
 [23.0,0.03],[23.5,0.03],[23.9,0.03],
 [24.2,0.04],[24.32,0.08],[24.4,0.02],[24.8,0.03],
 [25.05,0.05],[25.2,0.06],[25.3,0.08],[25.38,0.02],[25.7,0.03],
 [25.9,0.1],[26.1,0.15],[26.25,0.22],[26.33,0.12],[26.42,0.05],[26.55,0.04]];

const gehpD = [[-0.25,0.04],[0.05,0.07],[0.18,0.12],[0.27,0.15],[0.33,0.13],[0.42,0.08],[0.6,0.05],[0.85,0.04],
 [1.1,0.05],[1.2,0.07],[1.3,0.08],[1.42,0.04],[1.7,0.03],[1.95,0.04],
 [2.1,0.06],[2.2,0.09],[2.28,0.1],[2.4,0.06],[2.6,0.04],[2.9,0.05],
 [3.05,0.1],[3.15,0.18],[3.23,0.22],[3.3,0.18],[3.4,0.1],[3.6,0.06],[3.85,0.08],
 [4.02,0.12],[4.12,0.3],[4.22,0.5],[4.28,0.55],[4.34,0.45],[4.42,0.25],[4.6,0.15],[4.85,0.25],
 [4.93,0.4],[5.02,0.25],[5.12,0.3],[5.22,0.38],[5.3,0.22],[5.36,0.28],[5.45,0.15],[5.6,0.08],[5.85,0.06],
 [5.95,0.15],[6.05,0.35],[6.13,0.55],[6.2,0.68],[6.26,0.8],[6.3,1.03],[6.35,0.7],[6.43,0.15],[6.6,0.05],[6.85,0.05],
 [7.0,0.08],[7.1,0.2],[7.18,0.45],[7.25,0.68],[7.29,0.72],[7.35,0.35],[7.43,0.08],[7.6,0.05],[7.85,0.06],
 [8.0,0.1],[8.1,0.18],[8.2,0.38],[8.28,0.5],[8.33,0.42],[8.42,0.15],[8.55,0.05],[8.8,0.06],
 [8.95,0.1],[9.08,0.18],[9.18,0.28],[9.25,0.33],[9.32,0.2],[9.42,0.06],[9.6,0.05],[9.85,0.1],
 [9.97,0.2],[10.06,0.4],[10.15,0.5],[10.2,0.52],[10.28,0.45],[10.35,0.25],[10.43,0.1],[10.6,0.06],[10.85,0.12],
 [11.02,0.15],[11.12,0.25],[11.18,0.18],[11.26,0.25],[11.33,0.15],[11.42,0.06],[11.6,0.05],[11.8,0.06],
 [12.0,0.08],[12.2,0.12],[12.37,0.15],[12.47,0.08],[12.65,0.06],[12.85,0.2],
 [12.97,0.4],[13.05,0.49],[13.12,0.25],[13.25,0.25],[13.35,0.45],[13.39,0.5],[13.45,0.15],[13.55,0.05],[13.85,0.15],
 [13.95,0.35],[14.05,0.5],[14.1,0.55],[14.18,0.42],[14.26,0.38],[14.33,0.45],[14.4,0.2],[14.5,0.06],[14.85,0.1],
 [14.95,0.18],[15.05,0.26],[15.12,0.28],[15.2,0.24],[15.3,0.18],[15.42,0.1],[15.6,0.06],[15.85,0.05],
 [16.0,0.1],[16.1,0.2],[16.15,0.27],[16.25,0.15],[16.4,0.06],[16.7,0.03],[16.9,0.04],
 [16.98,0.12],[17.05,0.22],[17.1,0.27],[17.17,0.14],[17.27,0.14],[17.34,0.2],[17.42,0.08],[17.6,0.05],[17.85,0.25],
 [17.93,0.5],[18.02,0.65],[18.1,0.82],[18.16,0.93],[18.22,0.85],[18.3,0.55],[18.37,0.2],[18.45,0.08],[18.65,0.06],[18.85,0.08],
 [19.0,0.18],[19.1,0.35],[19.16,0.4],[19.23,0.3],[19.3,0.45],[19.36,0.57],[19.42,0.3],[19.5,0.1],[19.65,0.06],[19.85,0.15],
 [19.98,0.35],[20.06,0.6],[20.12,0.75],[20.2,0.6],[20.28,0.4],[20.36,0.22],[20.5,0.1],[20.75,0.1],[20.95,0.15],
 [21.03,0.25],[21.1,0.42],[21.16,0.5],[21.22,0.35],[21.3,0.45],[21.35,0.53],[21.42,0.2],[21.6,0.05],[21.85,0.04],
 [22.05,0.06],[22.18,0.15],[22.26,0.28],[22.3,0.33],[22.36,0.15],[22.46,0.05],[22.7,0.03],
 [22.9,0.04],[23.2,0.05],[23.5,0.04],[23.9,0.03],
 [24.1,0.04],[24.24,0.1],[24.31,0.18],[24.37,0.1],[24.45,0.05],[24.65,0.04],[24.85,0.05],
 [25.0,0.12],[25.07,0.38],[25.11,0.4],[25.17,0.22],[25.25,0.2],[25.3,0.25],[25.36,0.12],[25.55,0.1],[25.8,0.15],
 [25.87,0.3],[25.95,0.35],[26.1,0.36],[26.2,0.38],[26.27,0.38],[26.33,0.25],[26.4,0.08],[26.47,0.05],[26.55,0.04]];

// ---------- drawing ----------
const W = 543, H = 606;
const colors = { G: '#e0303a', GEH: '#2f62c8', GEHP: '#d6a02a', obs: '#111' };
const panels = [
  { obs: obsA, g: gA, geh: gehA, gehp: gehpA, top: 10,  bottom: 126, rows: [9.5, 17, 25, 33],          lx: 42, dotR: 0.9 },
  { obs: obsB, g: gB, geh: gehB, gehp: gehpB, top: 161, bottom: 277, rows: [165, 172, 180, 188],       lx: 37, dotR: 1.3 },
  { obs: obsC, g: gC, geh: gehC, gehp: gehpC, top: 313, bottom: 429, rows: [309, 316.5, 324.5, 332.5], lx: 43, dotR: 1.3 },
  { obs: obsD, g: gD, geh: gehD, gehp: gehpD, top: 463, bottom: 579, rows: [460.5, 468.5, 476.5, 484.5], lx: 47, dotR: 1.1 }
];

const px = v => v / W;
const py = v => 1 - v / H;
const xs = arr => arr.map(p => p[0]);
const ys = arr => arr.map(p => p[1]);

const traces = [];
const layout = {
  width: W, height: H,
  margin: { l: 0, r: 0, t: 0, b: 0 },
  paper_bgcolor: '#fff', plot_bgcolor: '#fff',
  showlegend: false,
  font: { family: 'Liberation Sans, Arial, sans-serif', size: 7, color: '#333' },
  annotations: [], shapes: []
};

panels.forEach((p, i) => {
  const n = i === 0 ? '' : String(i + 1);
  const xa = 'x' + n, ya = 'y' + n;
  const lineTrace = (data, name, color, w) => ({
    type: 'scatter', mode: 'lines', x: xs(data), y: ys(data), name: name,
    xaxis: xa, yaxis: ya, line: { color: color, width: w }, hoverinfo: 'skip'
  });
  traces.push(lineTrace(p.gehp, 'GEHP', colors.GEHP, 1.8));
  traces.push(lineTrace(p.geh, 'GEH', colors.GEH, 1.5));
  traces.push(lineTrace(p.g, 'G', colors.G, 1.4));
  traces.push({
    type: 'scatter', mode: 'markers', x: xs(p.obs), y: ys(p.obs), name: obsNames[i],
    xaxis: xa, yaxis: ya, marker: { color: colors.obs, size: i === 0 ? 2.2 : 2.8 }, hoverinfo: 'skip'
  });

  layout['xaxis' + n] = {
    domain: [px(35), px(540)], anchor: ya,
    range: [-0.24, 26.61],
    tickmode: 'array', tickvals: dayTicks, ticktext: dayLabels,
    ticks: 'outside', ticklen: 4, tickwidth: 1, tickcolor: '#666',
    minor: { tickmode: 'linear', tick0: 0, dtick: 0.25, ticks: 'outside', ticklen: 2, tickcolor: '#888', showgrid: false },
    showline: true, linecolor: '#666', linewidth: 1,
    showgrid: true, gridcolor: '#bdbdbd', gridwidth: 1, griddash: '1px,2px',
    zeroline: false,
    tickfont: { size: 7.5, color: '#444' },
    title: { text: 'CST', font: { size: 7, color: '#444' }, standoff: 1 }
  };
  layout['yaxis' + n] = {
    domain: [py(p.bottom), py(p.top)], anchor: xa,
    range: [-0.08, 2.15],
    tickmode: 'array', tickvals: yTickVals, ticktext: yTickText,
    ticks: 'outside', ticklen: 3, tickwidth: 1, tickcolor: '#666',
    showline: true, linecolor: '#666', linewidth: 1,
    showgrid: false, zeroline: false,
    tickfont: { size: 7.5, color: '#444' },
    title: { text: 'HONO [ppbv]', font: { size: 7, color: '#444' }, standoff: 5 }
  };

  // panel tag
  layout.annotations.push({
    xref: 'paper', yref: 'paper', x: px(3), y: py(p.top - 4), xanchor: 'left', yanchor: 'middle',
    text: '<b>' + panelTags[i] + '</b>', showarrow: false, font: { size: 10, color: '#222' }
  });

  // in-panel key
  const sx0 = p.lx, sx1 = p.lx + 13, tx = p.lx + 16;
  layout.shapes.push({
    type: 'circle', xref: 'paper', yref: 'paper', layer: 'above',
    x0: px((sx0 + sx1) / 2 - p.dotR), x1: px((sx0 + sx1) / 2 + p.dotR),
    y0: py(p.rows[0] + p.dotR), y1: py(p.rows[0] - p.dotR),
    fillcolor: colors.obs, line: { width: 0 }
  });
  [colors.G, colors.GEH, colors.GEHP].forEach((c, k) => {
    layout.shapes.push({
      type: 'line', xref: 'paper', yref: 'paper', layer: 'above',
      x0: px(sx0), x1: px(sx1), y0: py(p.rows[k + 1]), y1: py(p.rows[k + 1]),
      line: { color: c, width: 1.6 }
    });
  });
  [obsNames[i]].concat(modelNames).forEach((t, k) => {
    layout.annotations.push({
      xref: 'paper', yref: 'paper', x: px(tx), y: py(p.rows[k]), xanchor: 'left', yanchor: 'middle',
      text: t, showarrow: false, font: { size: 7, color: '#333' }
    });
  });
});

Plotly.newPlot('chart', traces, layout, { staticPlot: true, displayModeBar: false });
</script>
</body>
</html>
